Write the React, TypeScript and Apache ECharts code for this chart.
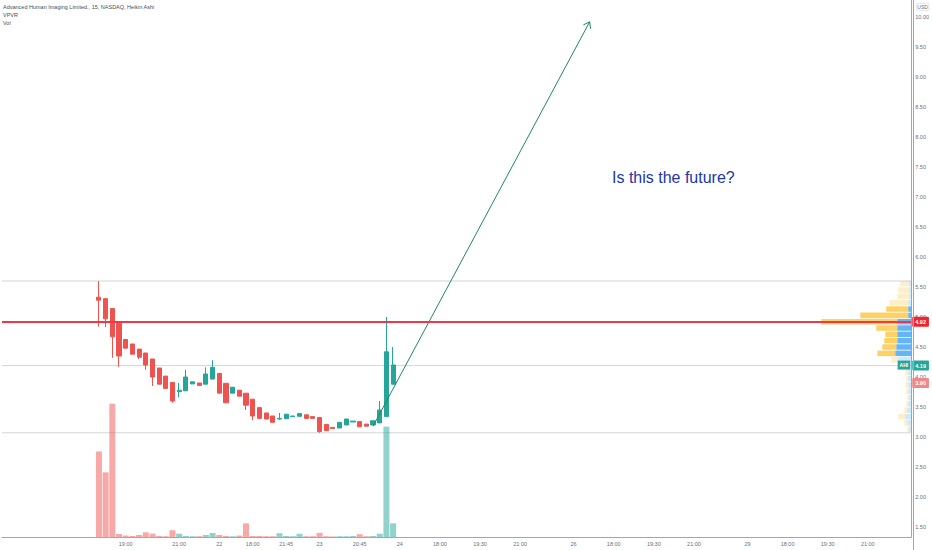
import React, { useEffect, useRef } from "react";
import * as echarts from "echarts";

// ---- layout of the time axis (15-min slots, the right part is empty future space)
const SLOT_COUNT = 136;
const FIRST_BAR_SLOT = 14;

// ---- time axis tick labels (slot index -> text)
const tickSlots = [18, 26, 32, 37, 42, 47, 53, 59, 65, 71, 77, 85, 91, 97, 103, 111, 117, 123, 129];
const tickLabels = ["19:00", "21:00", "22", "18:00", "21:45", "23", "20:45", "24", "18:00", "19:30", "21:00", "26", "18:00", "19:30", "21:00", "29", "18:00", "19:30", "21:00"];

// ---- Heikin Ashi candles
const haOpen = [5.33, 5.305, 5.14, 4.905, 4.625, 4.55, 4.465, 4.4, 4.3, 4.15, 4.015, 3.91, 3.755, 3.77, 3.885, 3.9, 3.88, 3.965, 4.06, 3.895, 3.73, 3.78, 3.73, 3.63, 3.49, 3.4, 3.35, 3.3, 3.305, 3.34, 3.345, 3.37, 3.34, 3.325, 3.21, 3.16, 3.15, 3.2, 3.25, 3.257, 3.215, 3.2, 3.235, 3.34, 3.88];
const haClose = [5.28, 4.97, 4.67, 4.35, 4.48, 4.38, 4.33, 4.2, 4.0, 3.88, 3.81, 3.6, 3.78, 4.0, 3.92, 3.86, 4.05, 4.16, 3.73, 3.57, 3.83, 3.68, 3.53, 3.35, 3.31, 3.3, 3.245, 3.31, 3.38, 3.35, 3.39, 3.31, 3.31, 3.09, 3.105, 3.14, 3.245, 3.3, 3.265, 3.17, 3.18, 3.27, 3.45, 4.42, 4.2];
const haLow = [4.84, 4.83, 4.32, 4.17, 4.48, 4.38, 4.3, 4.12, 3.85, 3.88, 3.81, 3.57, 3.66, 3.77, 3.885, 3.86, 3.88, 3.965, 3.73, 3.57, 3.73, 3.68, 3.45, 3.28, 3.31, 3.3, 3.245, 3.29, 3.305, 3.34, 3.345, 3.31, 3.31, 3.07, 3.105, 3.14, 3.15, 3.2, 3.25, 3.17, 3.18, 3.2, 3.235, 3.34, 3.88];
const haHigh = [5.6, 5.31, 5.14, 4.905, 4.625, 4.55, 4.465, 4.4, 4.3, 4.15, 4.015, 3.91, 3.9, 4.12, 3.92, 3.9, 4.16, 4.28, 4.06, 3.895, 3.83, 3.78, 3.73, 3.63, 3.49, 3.4, 3.35, 3.4, 3.38, 3.35, 3.39, 3.37, 3.34, 3.325, 3.21, 3.16, 3.245, 3.3, 3.265, 3.257, 3.215, 3.27, 3.6, 5.0, 4.5];
// ---- volume (thousands of shares)
const volume = [860, 650, 1340, 30, 15, 10, 20, 47, 34, 10, 8, 68, 33, 10, 8, 8, 20, 40, 20, 10, 8, 14, 137, 10, 10, 8, 8, 38, 10, 8, 32, 8, 8, 42, 8, 6, 8, 8, 10, 28, 8, 10, 33, 1110, 137];

// ---- price axis
const priceMin = 1.3333;
const priceMax = 10.2833;
const priceTicks = [1.5, 2, 2.5, 3, 3.5, 4, 4.5, 5, 5.5, 6, 6.5, 7, 7.5, 8, 8.5, 9, 9.5, 10];
const volumeAxisMax = 5400;

// ---- visible range volume profile (24 rows, bottom to top)
const vpLow = 3.07;
const vpHigh = 5.6;
const vpUp = [20, 40, 60, 40, 30, 20, 30, 30, 30, 30, 50, 130, 160, 150, 140, 140, 140, 140, 30, 30, 30, 20, 20, 20];
const vpDown = [20, 30, 70, 30, 20, 20, 20, 30, 20, 30, 30, 70, 180, 140, 130, 120, 210, 760, 480, 220, 190, 120, 110, 90];
const vpValueAreaRows = [12, 19];
const vpAxisMax = 9110;

// ---- horizontal levels
const pocPrice = 4.92;
const lastPrice = 4.19;
const prevClose = 3.9;
const ticker = "AHI";

// ---- arrow drawing (slot index, price)
const arrowFrom = [55.0, 3.18];
const arrowTo = [87.4, 9.92];

const UP = "#26a69a";
const DOWN = "#ef5350";
const UP_VOL = "rgba(38,166,154,0.5)";
const DOWN_VOL = "rgba(239,83,80,0.5)";
const AXIS_TEXT = "#6b6f7a";
const AXIS_LINE = "#a3a6af";
const LEVEL_GRAY = "#d1d4dc";
const FONT = "'Liberation Sans', 'Noto Sans', sans-serif";
const CLEAR = "rgba(0,0,0,0)";

const GRID_LEFT = 2;
const GRID_RIGHT = 19;
const GRID_BOTTOM = 13;
const CHART_W = 932;
const CHART_H = 550;

export default function App() {
  const ref = useRef<HTMLDivElement>(null);

  useEffect(() => {
    if (!ref.current) return;
    const chart = echarts.init(ref.current, undefined, { renderer: "svg" });

    const slots = Array.from({ length: SLOT_COUNT }, (_, i) => "s" + i);
    const labelMap: Record<number, string> = {};
    tickSlots.forEach((s, i) => (labelMap[s] = tickLabels[i]));

    const candles = haOpen.map((o, i) => [FIRST_BAR_SLOT + i, o, haClose[i], haLow[i], haHigh[i]]);
    const vols = volume.map((v, i) => ({
      value: [FIRST_BAR_SLOT + i, v],
      itemStyle: { color: haClose[i] >= haOpen[i] ? UP_VOL : DOWN_VOL },
    }));

    const rowH = (vpHigh - vpLow) / vpUp.length;
    const vpRows = vpUp.map((u, k) => [
      k,
      u,
      vpDown[k],
      vpLow + k * rowH,
      vpLow + (k + 1) * rowH,
      k >= vpValueAreaRows[0] && k <= vpValueAreaRows[1] ? 1 : 0,
    ]);

    const xStart = -0.5;
    const xEnd = SLOT_COUNT - 0.5;
    const levelSeries = (name: string, price: number, z: number) => ({
      type: "line",
      name,
      xAxisIndex: 1,
      yAxisIndex: 0,
      data: [
        [xStart, price],
        [xEnd, price],
      ],
      showSymbol: false,
      symbol: "none",
      silent: true,
      z,
      lineStyle: { color: LEVEL_GRAY, width: 1, type: "solid" },
    });

    const priceLabel = (bg: string) => ({
      show: true,
      position: "end" as const,
      distance: 1,
      formatter: (p: any) => Number(p.value).toFixed(2),
      backgroundColor: bg,
      color: "#ffffff",
      fontSize: 5.5,
      fontWeight: "bold" as const,
      fontFamily: FONT,
      padding: [2, 3, 2, 3],
      borderRadius: 1,
    });

    const hiddenAxis = {
      show: false,
      axisLine: { show: false, onZero: false },
      axisTick: { show: false },
      axisLabel: { show: false },
      splitLine: { show: false },
    };

    const scaleX = CHART_W - GRID_RIGHT + 0.5;

    const option: any = {
      animation: false,
      backgroundColor: "#ffffff",
      grid: { left: GRID_LEFT, right: GRID_RIGHT, top: 0, bottom: GRID_BOTTOM, containLabel: false },
      xAxis: [
        {
          type: "category",
          data: slots,
          boundaryGap: true,
          axisLine: { show: true, onZero: false, lineStyle: { color: AXIS_LINE, width: 1 } },
          axisTick: { show: false },
          splitLine: { show: false },
          axisLabel: {
            interval: 0,
            formatter: (_v: string, i: number) => labelMap[i] ?? "",
            fontSize: 5.5,
            color: AXIS_TEXT,
            fontFamily: FONT,
            margin: 4,
          },
        },
        { type: "value", min: xStart, max: xEnd, ...hiddenAxis },
        { type: "value", min: 0, max: vpAxisMax, inverse: true, ...hiddenAxis },
      ],
      yAxis: [
        {
          type: "value",
          position: "right",
          min: priceMin,
          max: priceMax,
          axisLine: { show: true, onZero: false, lineStyle: { color: AXIS_LINE, width: 1 } },
          axisTick: { show: false },
          splitLine: { show: false },
          axisLabel: {
            customValues: priceTicks,
            formatter: (v: number) => v.toFixed(2),
            fontSize: 5.5,
            color: AXIS_TEXT,
            fontFamily: FONT,
            margin: 4,
          },
        },
        { type: "value", position: "right", min: 0, max: volumeAxisMax, ...hiddenAxis },
      ],
      series: [
        levelSeries("rangeHigh", vpHigh, 0),
        levelSeries("rangeLow", vpLow, 0),
        levelSeries("lastPriceLine", lastPrice, 0),
        {
          type: "bar",
          name: "Vol",
          xAxisIndex: 0,
          yAxisIndex: 1,
          data: vols,
          barWidth: 6,
          z: 1,
        },
        {
          type: "candlestick",
          name: "AHI",
          xAxisIndex: 0,
          yAxisIndex: 0,
          data: candles,
          encode: { x: 0, y: [1, 2, 3, 4] },
          barWidth: 4.6,
          z: 2,
          itemStyle: { color: UP, color0: DOWN, borderColor: UP, borderColor0: DOWN, borderWidth: 1 },
          markLine: {
            silent: true,
            symbol: ["none", "none"],
            animation: false,
            label: { show: false },
            data: [
              { yAxis: pocPrice, lineStyle: { color: "#f23645", width: 2, type: "solid" }, label: priceLabel("#f2232d") },
            ],
          },
        },
        {
          type: "custom",
          name: "VPVR",
          xAxisIndex: 2,
          yAxisIndex: 0,
          data: vpRows,
          encode: { x: 1, y: 3 },
          z: 3,
          silent: true,
          renderItem: (_p: any, api: any) => {
            const up = api.value(1);
            const down = api.value(2);
            const lo = api.value(3);
            const hi = api.value(4);
            const inVA = api.value(5) === 1;
            const a = api.coord([0, hi]);
            const b = api.coord([up, lo]);
            const c = api.coord([up + down, lo]);
            const h = Math.max(b[1] - a[1] - 0.8, 1);
            return {
              type: "group",
              children: [
                {
                  type: "rect",
                  shape: { x: b[0], y: a[1], width: a[0] - b[0], height: h },
                  style: { fill: inVA ? "rgba(33,150,243,0.7)" : "rgba(33,150,243,0.22)" },
                },
                {
                  type: "rect",
                  shape: { x: c[0], y: a[1], width: b[0] - c[0], height: h },
                  style: { fill: inVA ? "rgba(251,192,45,0.72)" : "rgba(251,192,45,0.25)" },
                },
              ],
            };
          },
        },
        {
          type: "line",
          name: "arrow",
          xAxisIndex: 1,
          yAxisIndex: 0,
          data: [arrowFrom, arrowTo],
          showSymbol: false,
          symbol: "none",
          silent: true,
          z: 4,
          lineStyle: { color: "#208a55", width: 1 },
          markLine: {
            silent: true,
            symbol: ["none", "none"],
            animation: false,
            label: { show: false },
            data: [
              { yAxis: lastPrice, lineStyle: { color: CLEAR, width: 0 }, label: priceLabel(UP) },
              { yAxis: prevClose, lineStyle: { color: CLEAR, width: 0 }, label: priceLabel("#f08886") },
              {
                yAxis: lastPrice,
                lineStyle: { color: CLEAR, width: 0 },
                label: {
                  show: true,
                  position: "insideEndTop",
                  distance: [1, -4],
                  formatter: ticker,
                  backgroundColor: UP,
                  color: "#ffffff",
                  fontSize: 5,
                  fontWeight: "bold",
                  fontFamily: FONT,
                  padding: [2, 2, 2, 2],
                },
              },
            ],
          },
        },
        {
          type: "custom",
          name: "arrowHead",
          xAxisIndex: 1,
          yAxisIndex: 0,
          data: [[arrowFrom[0], arrowFrom[1], arrowTo[0], arrowTo[1]]],
          encode: { x: 2, y: 3 },
          z: 4,
          silent: true,
          renderItem: (_p: any, api: any) => {
            const p0 = api.coord([api.value(0), api.value(1)]);
            const p1 = api.coord([api.value(2), api.value(3)]);
            const ang = Math.atan2(p0[1] - p1[1], p0[0] - p1[0]);
            const L = 7;
            const s = 0.62;
            const a1 = [p1[0] + L * Math.cos(ang + s), p1[1] + L * Math.sin(ang + s)];
            const a2 = [p1[0] + L * Math.cos(ang - s), p1[1] + L * Math.sin(ang - s)];
            return {
              type: "polyline",
              shape: { points: [a1, p1, a2] },
              style: { stroke: "#208a55", fill: "none", lineWidth: 1 },
            };
          },
        },
      ],
      graphic: [
        {
          type: "line",
          silent: true,
          z: 10,
          shape: { x1: scaleX, y1: 0, x2: scaleX, y2: CHART_H },
          style: { stroke: AXIS_LINE, lineWidth: 1 },
        },
        {
          type: "text",
          left: 3,
          top: 4,
          style: { text: "Advanced Human Imaging Limited., 15, NASDAQ, Heikin Ashi", fontSize: 5.5, fill: "#4a4d57", fontFamily: FONT },
        },
        { type: "text", left: 3, top: 12, style: { text: "VPVR", fontSize: 5.5, fill: "#4a4d57", fontFamily: FONT } },
        { type: "text", left: 3, top: 20, style: { text: "Vol", fontSize: 5.5, fill: "#4a4d57", fontFamily: FONT } },
        {
          type: "text",
          left: 916,
          top: 3,
          style: {
            text: "USD",
            fontSize: 5,
            fill: AXIS_TEXT,
            fontFamily: FONT,
            borderColor: "#d1d4dc",
            borderWidth: 0.6,
            padding: [1, 1, 1, 1],
            borderRadius: 1,
          },
        },
        {
          type: "text",
          left: 612,
          top: 169,
          style: { text: "Is this the future?", fontSize: 16, fill: "#2137a6", fontFamily: FONT },
        },
      ],
    };

    chart.setOption(option);
    return () => chart.dispose();
  }, []);

  return <div ref={ref} style={{ width: CHART_W, height: CHART_H, position: "absolute", left: 0, top: 0 }} />;
}
